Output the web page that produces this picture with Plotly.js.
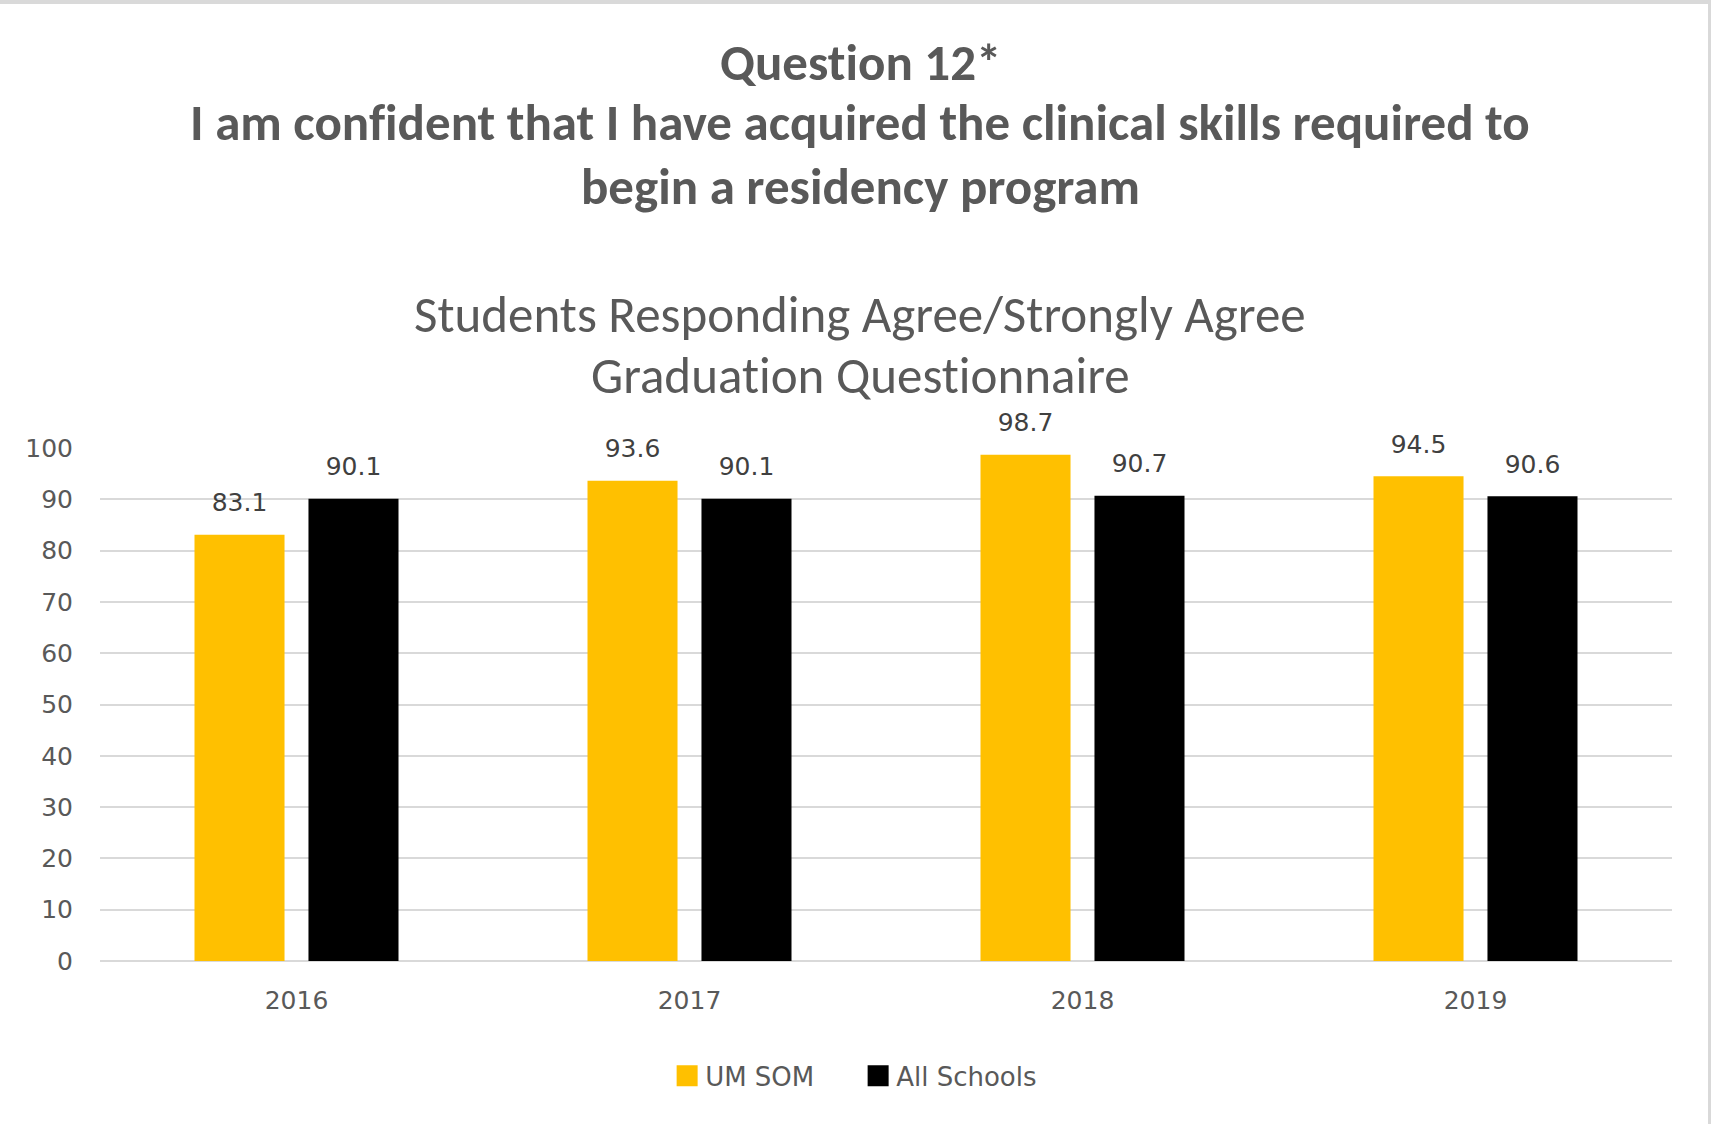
<!DOCTYPE html>
<html><head><meta charset="utf-8">
<script src="https://cdn.plot.ly/plotly-3.0.1.min.js"></script>
<style>html,body{margin:0;padding:0;background:#fff}#wrap{position:relative;width:1711px;height:1124px}#chart{width:1711px;height:1124px}#frame{position:absolute;left:0;top:0;right:0;bottom:0;border-top:4px solid #d9d9d9;border-right:3px solid #d9d9d9;pointer-events:none}
text{font-variant-ligatures:none;font-feature-settings:"liga" 0,"clig" 0}
g.legendpoints path{transform:translate(22px,0px) scale(1.75)}</style>
</head><body><div id="wrap"><div id="chart"></div><div id="frame"></div></div>
<script>
const years = ['2016', '2017', '2018', '2019'];
const umSom = [83.1, 93.6, 98.7, 94.5];
const allSchools = [90.1, 90.1, 90.7, 90.6];
const seriesNames = ['UM SOM', 'All Schools'];
const yTicks = [0, 10, 20, 30, 40, 50, 60, 70, 80, 90, 100];
const titleLines = ['Question 12*', 'I am confident that I have acquired the clinical skills required to', 'begin a residency program'];
const subtitleLines = ['Students Responding Agree/Strongly Agree', 'Graduation Questionnaire'];

const gold = '#FFC000';
const black = '#000000';
const gray = '#595959';
const labelFont = {family: '"DejaVu Sans", Verdana, sans-serif', size: 25, color: gray};
const titleFamily = 'Carlito, "Liberation Sans Narrow", "Liberation Sans", Arial, sans-serif';

const bar = (name, vals, color, og) => ({
  type: 'bar', name: name, x: years, y: vals, offsetgroup: og,
  marker: {color: color, line: {width: 0}}, hoverinfo: 'skip'
});
const lbl = (vals, og) => ({
  type: 'scatter', mode: 'markers+text', x: years, y: vals, offsetgroup: og,
  text: vals.map(v => v.toFixed(1)), textposition: 'top center',
  textfont: {family: labelFont.family, size: 25, color: '#404040'},
  marker: {size: 26, opacity: 0}, showlegend: false, hoverinfo: 'skip', cliponaxis: false
});

const data = [
  bar(seriesNames[0], umSom, gold, 'a'),
  bar(seriesNames[1], allSchools, black, 'b'),
  lbl(umSom, 'a'),
  lbl(allSchools, 'b')
];

const annY = [1.752, 1.634, 1.509];
const subY = [1.261, 1.142];
const annotations = [];
titleLines.forEach((t, i) => annotations.push({
  text: '<b>' + t + '</b>', xref: 'paper', yref: 'paper', x: 0.4835, y: annY[i],
  xanchor: 'center', yanchor: 'middle', showarrow: false,
  font: {family: titleFamily, size: 51, color: gray}
}));
subtitleLines.forEach((t, i) => annotations.push({
  text: t, xref: 'paper', yref: 'paper', x: 0.4835, y: subY[i],
  xanchor: 'center', yanchor: 'middle', showarrow: false,
  font: {family: titleFamily, size: 51, color: gray}
}));

const layout = {
  width: 1711, height: 1124,
  margin: {l: 100, r: 39, t: 448, b: 163},
  paper_bgcolor: '#ffffff', plot_bgcolor: '#ffffff',
  barmode: 'group', bargap: 0.42, bargroupgap: 0.21,
  scattermode: 'group', scattergap: 0.42,
  showlegend: true,
  legend: {orientation: 'h', x: 0.481, xanchor: 'center', y: -0.224, yanchor: 'middle', entrywidth: 146,
    font: {family: labelFont.family, size: 26, color: gray}, traceorder: 'normal', itemclick: false},
  xaxis: {type: 'category', showgrid: false, zeroline: false, showline: false, ticks: '',
    tickfont: labelFont, ticklabelstandoff: 22, fixedrange: true},
  yaxis: {range: [0, 100], tickvals: yTicks, ticktext: yTicks.map(String),
    showgrid: true, gridcolor: '#d9d9d9', gridwidth: 2, zeroline: true, zerolinecolor: '#d9d9d9', zerolinewidth: 2,
    showline: false, ticks: '', tickfont: labelFont, ticklabelstandoff: 26, fixedrange: true},
  annotations: annotations
};

Plotly.newPlot('chart', data, layout, {staticPlot: true, displayModeBar: false});
</script></body></html>
